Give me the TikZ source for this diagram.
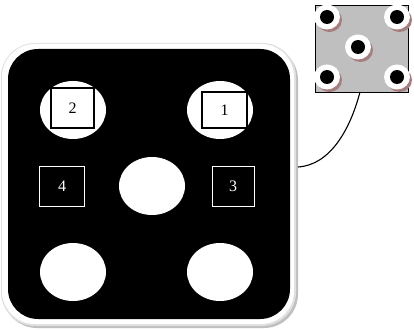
\documentclass[tikz,border=0pt]{standalone}
\usepackage{fontspec}
\setmainfont{Liberation Serif}
\definecolor{shadowbrown}{RGB}{165,125,125}
\begin{document}
\begin{tikzpicture}[x=1pt,y=-1pt,
  hole/.style={fill=white,draw=none},
  darklabel/.style={draw=black,line width=1.2pt,fill=white,minimum width=42pt,minimum height=38pt,inner sep=0pt,font=\fontsize{16}{18}\selectfont,text=black},
  lightlabel/.style={draw=white,line width=1pt,minimum width=45pt,minimum height=40pt,inner sep=0pt,font=\fontsize{16}{18}\selectfont,text=white},
  ring/.style={fill=white,draw=none},
  ringshadow/.style={fill=shadowbrown,draw=none},
  dot/.style={fill=black,draw=none}]
\useasboundingbox (0,0) rectangle (414,331);
% main frame shadow and border
\fill[black!25,rounded corners=34pt] (3,46) rectangle (298,328);
\fill[black!12,rounded corners=34pt] (1,43) rectangle (296,326);
\fill[white,rounded corners=33pt] (2,44) rectangle (294,324);
\node[fill=black,rounded corners=30pt,minimum width=282pt,minimum height=270pt,inner sep=0pt] (board) at (149,184) {};
% holes
\fill[hole] (73,110) ellipse (33pt and 29pt);
\fill[hole] (220,110) ellipse (33pt and 29pt);
\fill[hole] (152,186) ellipse (33pt and 29pt);
\fill[hole] (73,272) ellipse (33pt and 29pt);
\fill[hole] (220,272) ellipse (33pt and 29pt);
% labels
\node[darklabel,minimum width=43pt,minimum height=40pt] (l2) at (72.5,108) {2};
\node[darklabel,minimum width=45pt,minimum height=36pt] (l1) at (224.5,110) {1};
\node[lightlabel] (l4) at (62,186.5) {4};
\node[lightlabel,minimum width=42pt] (l3) at (233,186.5) {3};
% small box
\node[draw=black,line width=1pt,fill=black!25,minimum width=93pt,minimum height=87pt,inner sep=0pt,anchor=north west] (small) at (315,5) {};
\foreach \p in {(327,17),(397,17),(358,47),(327,77),(397,77)}{
  \fill[ringshadow] \p ++(2.5,3) ellipse (12.5pt and 12pt);
  \fill[ring] \p ellipse (13pt and 12.5pt);
  \fill[dot] \p ellipse (7pt and 7pt);
}
\coordinate (start) at (298,167);
\coordinate (smallb) at (360,92);
\draw[line width=1.1pt] (start) .. controls (330,165) and (350,130) .. (smallb);
\end{tikzpicture}
\end{document}
